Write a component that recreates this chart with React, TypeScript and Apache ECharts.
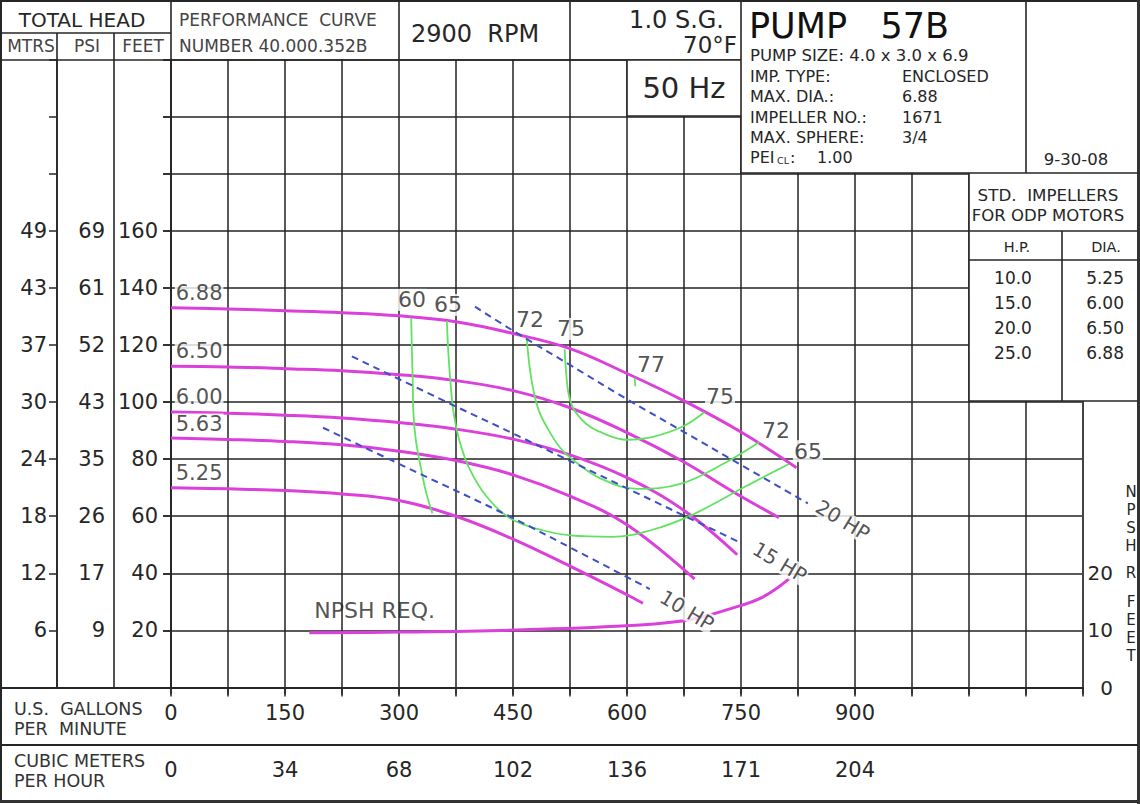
import React, { useEffect, useRef } from "react";
import * as echarts from "echarts";

const FONT = "'DejaVu Sans', Verdana, sans-serif";

// ---------- axis ticks / labels ----------
const feetTicks = [20, 40, 60, 80, 100, 120, 140, 160];
const mtrsLabels = ["6", "12", "18", "24", "30", "37", "43", "49"];
const psiLabels = ["9", "17", "26", "35", "43", "52", "61", "69"];
const gpmTicks = [0, 150, 300, 450, 600, 750, 900];
const gpmLabels = ["0", "150", "300", "450", "600", "750", "900"];
const cmhLabels = ["0", "34", "68", "102", "136", "171", "204"];
const npshTicks = [0, 10, 20];

// ---------- impeller head curves [GPM, feet] ----------
const imp688 = [[0, 133], [75, 132.6], [150, 132], [225, 131.3], [300, 130.2], [375, 128.1], [450, 124], [525, 118.7], [600, 110], [675, 100.4], [750, 89.5], [823, 77]];
const imp650 = [[0, 112.5], [75, 112.3], [150, 111.7], [225, 111], [300, 109.6], [375, 107.5], [450, 104], [525, 98], [600, 89.3], [675, 79], [740, 68.5], [800, 59.5]];
const imp600 = [[0, 96.5], [75, 96.1], [150, 95.4], [225, 94.4], [300, 92.8], [375, 90.5], [450, 87], [525, 81.5], [600, 73.5], [675, 62], [745, 46.5]];
const imp563 = [[0, 87.4], [75, 86.9], [150, 86.2], [225, 85], [300, 82.8], [375, 79.5], [450, 74.5], [525, 67], [600, 57], [689, 38]];
const imp525 = [[0, 70], [75, 69.6], [150, 69], [225, 67.8], [300, 65.5], [375, 60], [450, 52], [525, 42.5], [600, 32.5], [621, 29.5]];

// ---------- efficiency contours ----------
const eff60 = [[316, 129.5], [317, 118], [318, 108], [319, 96], [322, 87], [328, 78], [336, 68], [344, 61]];
const eff65 = [[363, 128.5], [365, 117], [368, 106], [372, 96], [380, 86], [393, 76.5], [415, 67], [448, 59], [490, 55], [525, 53.3], [580, 52.8], [630, 55], [685, 60.4], [760, 71], [813, 78.3]];
const eff72 = [[468, 122.5], [472, 112], [477, 104], [484, 97], [494, 91.5], [512, 84], [530, 79.5], [567, 73], [614, 69.6], [670, 71.3], [731, 79], [774, 86]];
const eff75 = [[518, 118.5], [520, 110], [523, 103], [528, 98.5], [535, 95.5], [547, 92.2], [562, 89.8], [600, 86.8], [634, 87.8], [674, 91.5], [702, 96.5]];
const eff77 = [[610, 108.5], [611, 105.5]];

// ---------- horsepower lines ----------
const hp20 = [[400, 133.4], [450, 125], [525, 113], [600, 101], [675, 89.5], [750, 78], [838, 64.5]];
const hp15 = [[238, 116], [376, 98.3], [450, 89], [520, 80], [748, 50.9]];
const hp10 = [[200, 91], [320, 75.8], [445, 60], [540, 47], [630, 34.5]];

// ---------- NPSH required [GPM, NPSH feet] ----------
const npshReq = [[182, 9.6], [300, 9.7], [450, 10.05], [600, 10.8], [675, 11.7], [700, 12.4], [731, 13.6], [778, 15.8], [814, 19.1]];

// ---------- in-plot annotations ----------
const effLabelText = ["60", "65", "72", "75", "77", "75", "72", "65"];
const effLabelPos = [[317, 135.8], [364.5, 134], [472.4, 128.8], [526.3, 125.6], [631.6, 113.3], [722.4, 102.1], [796, 90.2], [838, 82.8]];
const diaLabelText = ["6.88", "6.50", "6.00", "5.63", "5.25"];
const diaLabelPos = [[37, 138.2], [37, 117.9], [37, 101.8], [37, 92.3], [37, 75.1]];
const hpLabelText = ["20 HP", "15 HP", "10 HP"];
const hpLabelPos = [[884, 58.6], [801, 43.9], [679, 27]];

// ---------- header / info texts ----------
const pumpInfoKeys = ["IMP. TYPE:", "MAX. DIA.:", "IMPELLER NO.:", "MAX. SPHERE:"];
const pumpInfoVals = ["ENCLOSED", "6.88", "1671", "3/4"];
const stdHp = ["10.0", "15.0", "20.0", "25.0"];
const stdDia = ["5.25", "6.00", "6.50", "6.88"];
const npshrLetters = ["N", "P", "S", "H", "R", "F", "E", "E", "T"];

const MAG = "#db40db";
const GRN = "#62e262";
const BLU = "#3d4fc6";
const LC = "#262626";

function ln(x1: number, y1: number, x2: number, y2: number, w = 1.6, c = LC): any {
  return { type: "line", z: 30, shape: { x1, y1, x2, y2 }, style: { stroke: c, lineWidth: w } };
}
function box(x: number, y: number, width: number, height: number): any {
  return { type: "rect", z: 25, shape: { x, y, width, height }, style: { fill: "#fff", stroke: "none" } };
}
function tx(text: string, x: number, y: number, size: number, align = "left", color = "#262626"): any {
  return {
    type: "text", z: 40,
    style: { text, x, y, fill: color, fontSize: size, fontFamily: FONT, align, verticalAlign: "middle", textAlign: align, textVerticalAlign: "middle" },
  };
}

function curve(data: number[][], color: string, width: number, dashed = false, yAxisIndex = 0): any {
  return {
    type: "line", data, xAxisIndex: 0, yAxisIndex, showSymbol: false, symbol: "none", smooth: 0.4,
    lineStyle: { color, width, type: dashed ? [7, 5] : "solid" }, z: 3, silent: true,
  };
}

export default function App() {
  const ref = useRef<HTMLDivElement>(null);
  useEffect(() => {
    const chart = echarts.init(ref.current!, null, { renderer: "svg" });

    const labelData: any[] = [];
    effLabelText.forEach((t, i) => labelData.push({ name: t, value: effLabelPos[i], label: { fontSize: 22 } }));
    diaLabelText.forEach((t, i) => labelData.push({ name: t, value: diaLabelPos[i], label: { fontSize: 21 } }));
    hpLabelText.forEach((t, i) => labelData.push({ name: t, value: hpLabelPos[i], label: { fontSize: 20, rotate: -31 } }));
    labelData.push({ name: "NPSH REQ.", value: [268, 27], label: { fontSize: 22, backgroundColor: "transparent" } });

    const yBase = { type: "value", min: 0, max: 220, interval: 20, position: "left" };
    const fmt = (arr: string[]) => (v: number) => { const i = feetTicks.indexOf(v); return i >= 0 ? arr[i] : ""; };
    const npshrY = [492, 510, 528, 546, 573, 602, 620, 638, 656];

    const graphic: any[] = [
      // white boxes over the grid
      box(741, 2, 397, 171), box(627, 60, 114, 56), box(969, 173, 169, 228),
      // frame
      { type: "rect", z: 30, shape: { x: 1, y: 1, width: 1137, height: 800 }, style: { fill: "none", stroke: LC, lineWidth: 2 } },
      ln(0, 801.5, 1140, 801.5, 3, "#333"), ln(1138.5, 0, 1138.5, 804, 3, "#333"),
      // header
      ln(2, 33, 171, 33), ln(2, 60, 741, 60), ln(171, 2, 171, 60), ln(57, 33, 57, 688), ln(114, 33, 114, 688),
      ln(399, 2, 399, 60), ln(570, 2, 570, 60),
      ln(741, 2, 741, 173), ln(741, 173, 1138, 173), ln(1026, 2, 1026, 173),
      ln(627, 60, 627, 116), ln(627, 116, 741, 116),
      ln(969, 173, 969, 401), ln(969, 231, 1138, 231), ln(969, 260, 1138, 260), ln(1062, 231, 1062, 401), ln(969, 401, 1138, 401),
      ln(2, 688, 1083, 688, 2), ln(2, 745, 1138, 745, 2),
      // texts
      tx("TOTAL HEAD", 82, 20, 20, "center"),
      tx("MTRS", 31, 46, 17, "center", "#444"), tx("PSI", 87, 46, 17, "center", "#444"), tx("FEET", 143, 46, 17, "center", "#444"),
      tx("PERFORMANCE  CURVE", 179, 20, 17, "left", "#444"), tx("NUMBER 40.000.352B", 179, 46, 17, "left", "#444"),
      tx("2900  RPM", 411, 34, 24),
      tx("1.0 S.G.", 724, 20, 24, "right"), tx("70°F", 737, 45, 23, "right"),
      tx("50 Hz", 684, 88, 29, "center"),
      tx("PUMP   57B", 749, 26, 35, "left", "#111"),
      tx("PUMP SIZE: 4.0 x 3.0 x 6.9", 750, 55, 16.5),
      ...pumpInfoKeys.map((k, i) => tx(k, 750, 76.5 + i * 20.3, 16)),
      ...pumpInfoVals.map((v, i) => tx(v, 902, 76.5 + i * 20.3, 16)),
      tx("PEI", 750, 157, 16), tx("CL", 777, 160, 9.5), tx(":", 790, 157, 16), tx("1.00", 817, 157, 16),
      tx("9-30-08", 1076, 159, 16.5, "center"),
      tx("STD.  IMPELLERS", 1048, 195, 16.7, "center"), tx("FOR ODP MOTORS", 1048, 215, 16.5, "center"),
      tx("H.P.", 1017, 247, 14.5, "center"), tx("DIA.", 1106, 247, 14.5, "center"),
      ...stdHp.map((v, i) => tx(v, 1013, 278 + i * 25, 17, "center")),
      ...stdDia.map((v, i) => tx(v, 1124, 278 + i * 25, 17, "right")),
      tx("U.S.  GALLONS", 14, 709, 17.5, "left", "#333"), tx("PER  MINUTE", 14, 729, 17.5, "left", "#333"),
      tx("CUBIC METERS", 14, 761, 17.5, "left", "#333"), tx("PER HOUR", 14, 781, 17.5, "left", "#333"),
      ...npshrLetters.map((c, i) => tx(c, 1131, npshrY[i], 15, "center")),
    ];

    const option: any = {
      animation: false,
      backgroundColor: "#fff",
      textStyle: { fontFamily: FONT },
      grid: { left: 171, top: 59.5, width: 912, height: 628, containLabel: false },
      xAxis: [
        {
          type: "value", min: 0, max: 1200, interval: 75, position: "bottom",
          axisLine: { show: true, lineStyle: { color: LC, width: 2 } },
          axisTick: { show: true, length: 9, lineStyle: { color: LC, width: 1.5 } },
          splitLine: { show: true, lineStyle: { color: "#222", width: 1.5 } },
          axisLabel: { fontSize: 21, margin: 15, color: "#262626", fontFamily: FONT, formatter: (v: number) => { const i = gpmTicks.indexOf(v); return i >= 0 ? gpmLabels[i] : ""; } },
        },
        {
          type: "value", min: 0, max: 1200, interval: 75, position: "bottom", offset: 57,
          axisLine: { show: false },
          axisTick: { show: true, length: 7, lineStyle: { color: LC, width: 1.5 } },
          splitLine: { show: false },
          axisLabel: { fontSize: 21, margin: 15, color: "#262626", fontFamily: FONT, formatter: (v: number) => { const i = gpmTicks.indexOf(v); return i >= 0 ? cmhLabels[i] : ""; } },
        },
      ],
      yAxis: [
        {
          ...yBase,
          axisLine: { show: true, lineStyle: { color: LC, width: 1.6 } },
          axisTick: { show: true, length: 8, lineStyle: { color: LC, width: 1.5 } },
          splitLine: { show: true, lineStyle: { color: "#5a5a5a", width: 2 } },
          axisLabel: { fontSize: 21, margin: 13, color: "#262626", fontFamily: FONT, formatter: (v: number) => (feetTicks.includes(v) ? String(v) : "") },
        },
        {
          ...yBase, offset: 57,
          axisLine: { show: true, lineStyle: { color: LC, width: 1.6 } },
          axisTick: { show: true, length: 8, lineStyle: { color: LC, width: 1.5 } },
          splitLine: { show: false },
          axisLabel: { fontSize: 21, margin: 9, color: "#262626", fontFamily: FONT, formatter: fmt(psiLabels) },
        },
        {
          ...yBase, offset: 114,
          axisLine: { show: true, lineStyle: { color: LC, width: 1.6 } },
          axisTick: { show: true, length: 8, lineStyle: { color: LC, width: 1.5 } },
          splitLine: { show: false },
          axisLabel: { fontSize: 21, margin: 10, color: "#262626", fontFamily: FONT, formatter: fmt(mtrsLabels) },
        },
        {
          type: "value", min: 0, max: 110, interval: 10, position: "right",
          axisLine: { show: true, lineStyle: { color: "#444", width: 2 } },
          axisTick: { show: false }, splitLine: { show: false },
          axisLabel: { fontSize: 20, margin: 30, align: "right", color: "#262626", fontFamily: FONT, formatter: (v: number) => (npshTicks.includes(v) ? String(v) : "") },
        },
      ],
      series: [
        curve(imp688, MAG, 3), curve(imp650, MAG, 3), curve(imp600, MAG, 3), curve(imp563, MAG, 3), curve(imp525, MAG, 3),
        curve(eff60, GRN, 1.8), curve(eff65, GRN, 1.8), curve(eff72, GRN, 1.8), curve(eff75, GRN, 1.8), curve(eff77, GRN, 1.8),
        curve(hp20, BLU, 2, true), curve(hp15, BLU, 2, true), curve(hp10, BLU, 2, true),
        curve(npshReq, MAG, 3, false, 3),
        {
          type: "scatter", data: labelData, symbolSize: 1, itemStyle: { color: "rgba(0,0,0,0)" }, z: 6, silent: true,
          label: { show: true, position: "inside", formatter: "{b}", color: "#262626", fontFamily: FONT, backgroundColor: "#fff", padding: [0, 1] },
        },
      ],
      graphic,
    };
    chart.setOption(option);
    return () => chart.dispose();
  }, []);
  return <div ref={ref} style={{ position: "fixed", left: 0, top: 0, width: 1140, height: 804, background: "#fff" }} />;
}
